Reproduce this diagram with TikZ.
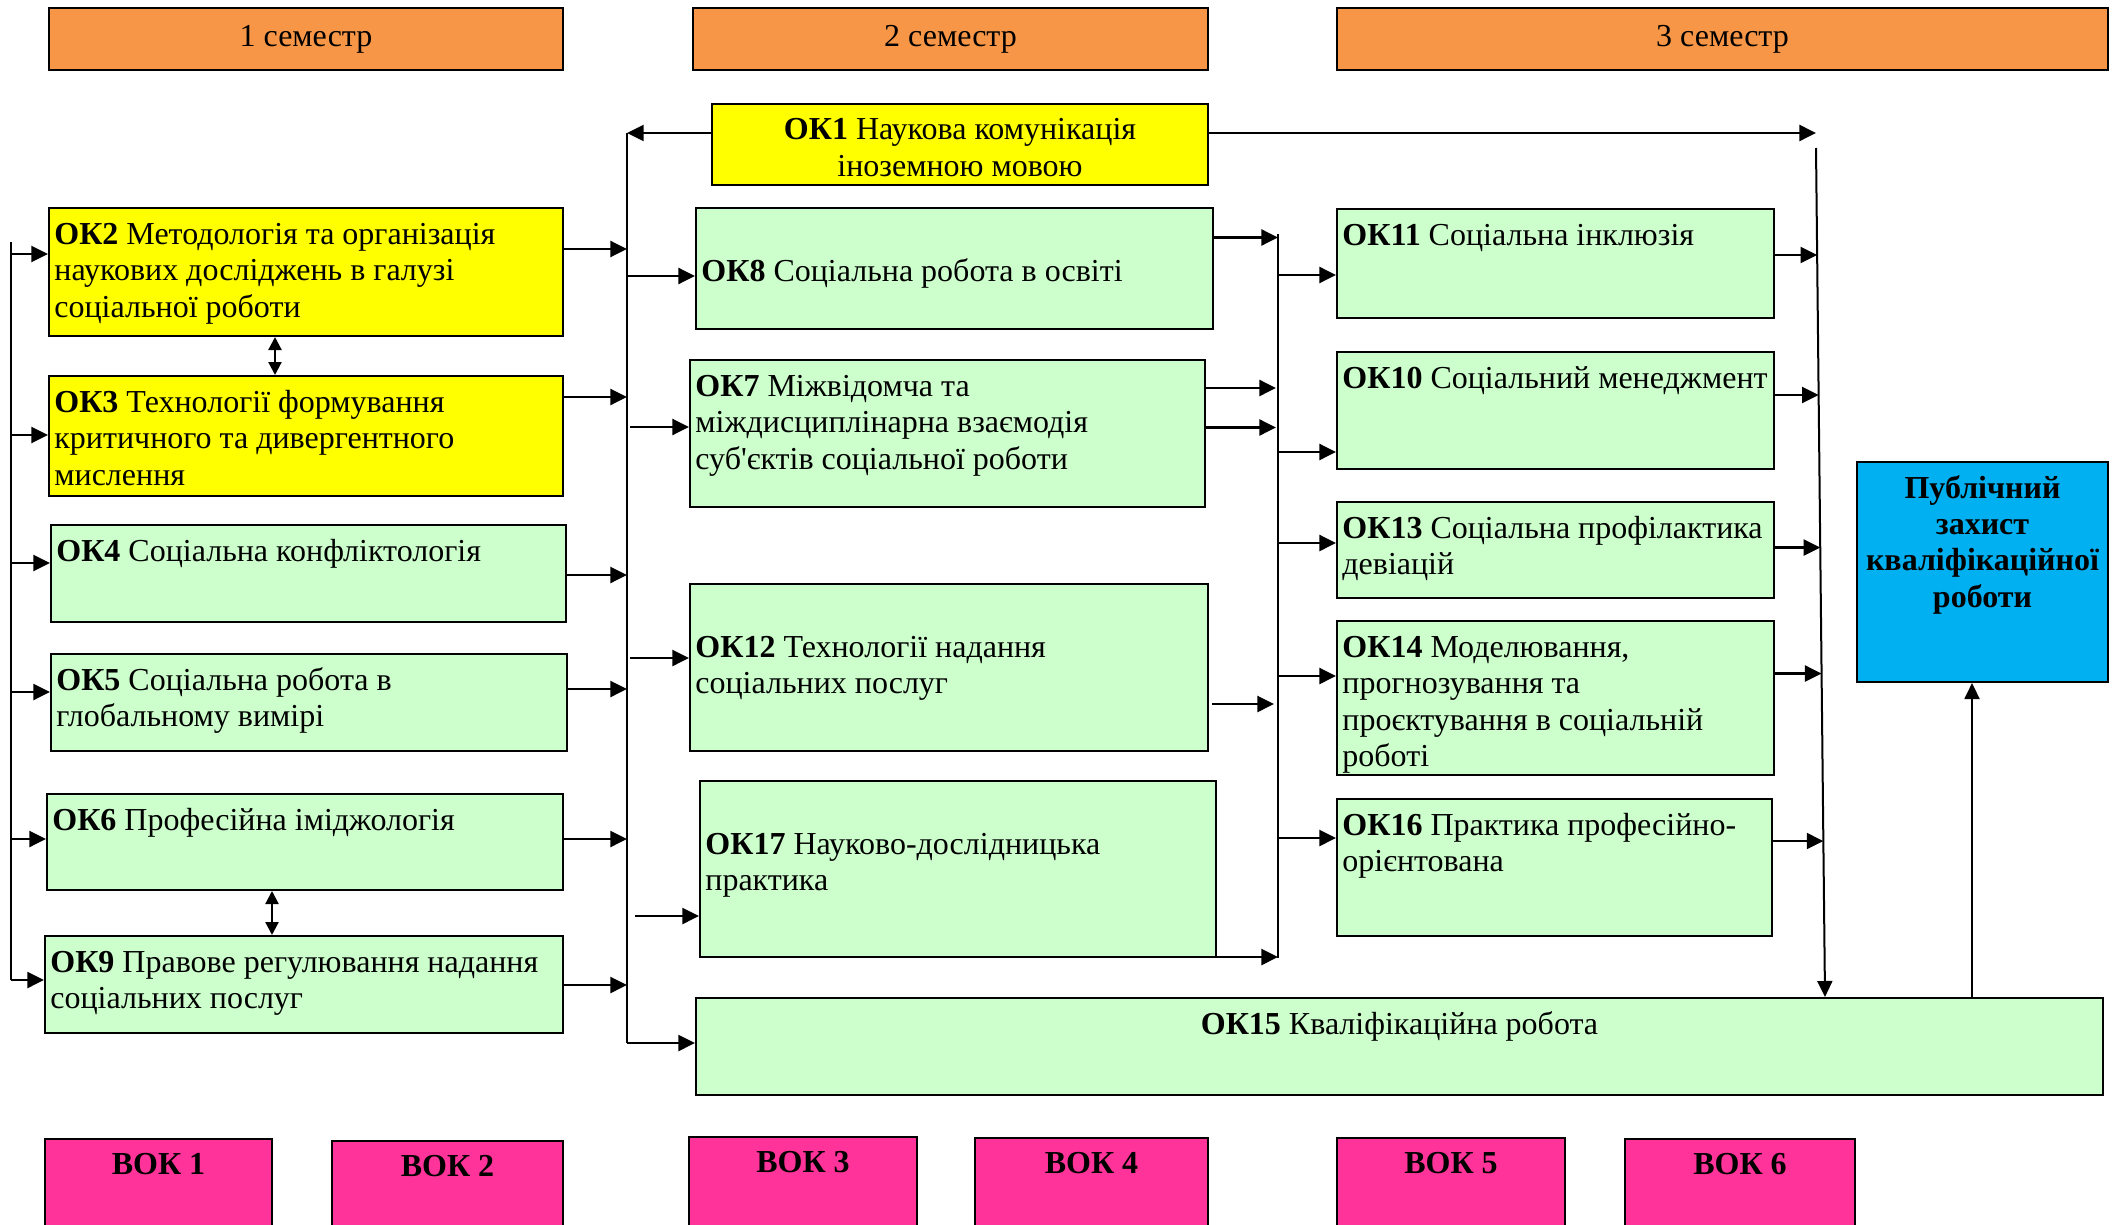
\documentclass[tikz,border=0pt]{standalone}
\usepackage{fontspec}
\setmainfont{Liberation Serif}
\newfontfamily\apf{Liberation Serif}
\usetikzlibrary{arrows.meta,fit,calc}
\newcommand{\tlft}[1]{\begin{tabular}[t]{@{}l@{}}#1\end{tabular}}
\newcommand{\tctr}[1]{\begin{tabular}[t]{@{}c@{}}#1\end{tabular}}
\definecolor{hdr}{HTML}{F79646}
\definecolor{yel}{HTML}{FFFF00}
\definecolor{grn}{HTML}{CCFFCC}
\definecolor{blu}{HTML}{00B0F0}
\definecolor{mag}{HTML}{FF3399}
\begin{document}
\begin{tikzpicture}[x=0.5pt,y=-0.5pt,
  every node/.style={font=\fontsize{16pt}{18.2pt}\selectfont},
  box/.style={draw=black, line width=1pt, inner sep=0pt},
  txt/.style={anchor=base west, inner sep=0pt},
  ctxt/.style={anchor=base, inner sep=0pt},
  arr/.style={line width=1.1pt, -{Triangle[length=8.3pt,width=8pt]}},
  darr/.style={line width=1.1pt, {Triangle[length=6.5pt,width=6.5pt]}-{Triangle[length=6.5pt,width=6.5pt]}},
  bus/.style={line width=0.6pt},
  tbus/.style={line width=1pt},
]
\useasboundingbox (0,0) rectangle (2114,1225);
\clip (0,0) rectangle (2114,1225);
\fill[white] (0,0) rectangle (2114,1225);

% semester headers
\node[box, fill=hdr, fit={(49,8) (563,70)}] (s1) {};
\node[box, fill=hdr, fit={(693,8) (1208,70)}] (s2) {};
\node[box, fill=hdr, fit={(1337,8) (2108,70)}] (s3) {};
\node[ctxt] at ([shift={(0,40)}]s1.north) {1 семестр};
\node[ctxt] at ([shift={(0,40)}]s2.north) {2 семестр};
\node[ctxt] at ([shift={(0,40)}]s3.north) {3 семестр};

% left column
\node[box, fill=yel, fit={(49,208) (563,336)}] (ok2) {};
\node[box, fill=yel, fit={(49,376) (563,496)}] (ok3) {};
\node[box, fill=grn, fit={(51,525) (566,622)}] (ok4) {};
\node[box, fill=grn, fit={(51,654) (567,751)}] (ok5) {};
\node[box, fill=grn, fit={(47,794) (563,890)}] (ok6) {};
\node[box, fill=grn, fit={(45,936) (563,1033)}] (ok9) {};
\node[txt] at ([shift={(6,37.5)}]ok2.north west) {\tlft{\textbf{ОК2} Методологія та організація\\наукових досліджень в галузі\\соціальної роботи}};
\node[txt] at ([shift={(6,37.5)}]ok3.north west) {\tlft{\textbf{ОК3} Технології формування\\критичного та дивергентного\\мислення}};
\node[txt] at ([shift={(6,37.5)}]ok4.north west) {\tlft{\textbf{ОК4} Соціальна конфліктологія}};
\node[txt] at ([shift={(6,37.5)}]ok5.north west) {\tlft{\textbf{ОК5} Соціальна робота в\\глобальному вимірі}};
\node[txt] at ([shift={(6,37.5)}]ok6.north west) {\tlft{\textbf{ОК6} Професійна іміджологія}};
\node[txt] at ([shift={(6,37.5)}]ok9.north west) {\tlft{\textbf{ОК9} Правове регулювання надання\\соціальних послуг}};

% middle column
\node[box, fill=yel, fit={(712,104) (1208,185)}] (ok1) {};
\node[box, fill=grn, fit={(696,208) (1213,329)}] (ok8) {};
\node[box, fill=grn, fit={(690,360) (1205,507)}] (ok7) {};
\node[box, fill=grn, fit={(690,584) (1208,751)}] (ok12) {};
\node[box, fill=grn, fit={(700,781) (1216,957)}] (ok17) {};
\node[box, fill=grn, fit={(696,998) (2103,1095)}] (ok15) {};
\node[ctxt] at ([shift={(0,37)}]ok1.north) {\tctr{\textbf{ОК1} Наукова комунікація\\іноземною мовою}};
\node[txt] at ([shift={(6,74)}]ok8.north west) {\tlft{\textbf{ОК8} Соціальна робота в освіті}};
\node[txt] at ([shift={(6,37.5)}]ok7.north west) {\tlft{\textbf{ОК7} Міжвідомча та\\міждисциплінарна взаємодія\\суб{\apf '}єктів соціальної роботи}};
\node[txt] at ([shift={(6,74)}]ok12.north west) {\tlft{\textbf{ОК12} Технології надання\\соціальних послуг}};
\node[txt] at ([shift={(6,74)}]ok17.north west) {\tlft{\textbf{ОК17} Науково-дослідницька\\практика}};
\node[ctxt] at ([shift={(0,37.5)}]ok15.north) {\textbf{ОК15} Кваліфікаційна робота};

% right column
\node[box, fill=grn, fit={(1337,209) (1774,318)}] (ok11) {};
\node[box, fill=grn, fit={(1337,352) (1774,469)}] (ok10) {};
\node[box, fill=grn, fit={(1337,502) (1774,598)}] (ok13) {};
\node[box, fill=grn, fit={(1337,621) (1774,775)}] (ok14) {};
\node[box, fill=grn, fit={(1337,799) (1772,936)}] (ok16) {};
\node[box, fill=blu, fit={(1857,462) (2108,682)}] (pub) {};
\node[txt] at ([shift={(6,37.5)}]ok11.north west) {\tlft{\textbf{ОК11} Соціальна інклюзія}};
\node[txt] at ([shift={(6,37.5)}]ok10.north west) {\tlft{\textbf{ОК10} Соціальний менеджмент}};
\node[txt] at ([shift={(6,37.5)}]ok13.north west) {\tlft{\textbf{ОК13} Соціальна профілактика\\девіацій}};
\node[txt] at ([shift={(6,37.5)}]ok14.north west) {\tlft{\textbf{ОК14} Моделювання,\\прогнозування та\\проєктування в соціальній\\роботі}};
\node[txt] at ([shift={(6,37.5)}]ok16.north west) {\tlft{\textbf{ОК16} Практика професійно-\\орієнтована}};
\node[ctxt] at ([shift={(0,37)}]pub.north) {\bfseries\tctr{Публічний\\захист\\кваліфікаційної\\роботи}};

% VOK boxes
\node[box, line width=0.8pt, fill=mag, fit={(45,1139) (272,1240)}] (vok1) {};
\node[box, line width=0.8pt, fill=mag, fit={(332,1141) (563,1240)}] (vok2) {};
\node[box, line width=0.8pt, fill=mag, fit={(689,1137) (917,1240)}] (vok3) {};
\node[box, line width=0.8pt, fill=mag, fit={(975,1138) (1208,1240)}] (vok4) {};
\node[box, line width=0.8pt, fill=mag, fit={(1337,1138) (1565,1240)}] (vok5) {};
\node[box, line width=0.8pt, fill=mag, fit={(1625,1139) (1855,1240)}] (vok6) {};
\foreach \v/\t in {vok1/ВОК 1, vok2/ВОК 2, vok3/ВОК 3, vok4/ВОК 4, vok5/ВОК 5, vok6/ВОК 6}
  \node[ctxt] at ([shift={(0,36.5)}]\v.north) {\textbf{\t}};

% left bus
\coordinate (lbT) at (11,242);
\coordinate (lbB) at (11,980);
\draw[bus] (lbT) -- (lbB);
\foreach \n/\yy in {ok2/254, ok3/435, ok4/563, ok5/692, ok6/839, ok9/980}
  \draw[arr] (lbT |- 0,\yy) -- (\n.west |- 0,\yy);

% double arrows
\draw[darr] (ok2.south -| 275,0) -- (ok3.north -| 275,0);
\draw[darr] (ok6.south -| 272,0) -- (ok9.north -| 272,0);

% bus A
\coordinate (aT) at (627,133);
\coordinate (aB) at (627,1043);
\draw[bus] (aT) -- (aB);
\draw[arr] (ok1.west |- aT) -- (aT);
\foreach \n/\yy in {ok2/249, ok3/397, ok4/575, ok5/689, ok6/839, ok9/985}
  \draw[arr] (\n.east |- 0,\yy) -- (aT |- 0,\yy);
\foreach \n/\yy/\xs in {ok8/276/0, ok7/427/3, ok12/658/3, ok17/916/8, ok15/1043/0}
  \draw[arr] ($(aT |- 0,\yy)+(\xs,0)$) -- (\n.west |- 0,\yy);

% bus C (to qualification work)
\coordinate (cT) at (1816,148);
\coordinate (cB) at (1825,997);
\draw[arr] (ok1.east |- aT) -- (cT |- aT);
\draw[tbus, -{Triangle[length=8pt,width=7.5pt]}] (cT) -- (cB);
\foreach \n/\f in {ok11/0.1260, ok10/0.2909, ok13/0.4706, ok14/0.6190, ok16/0.8163}{
  \path ($(cT)!\f!(cB)$) coordinate (tmp);
  \draw[arr] (\n.east |- tmp) -- (tmp);
}

% bus B
\coordinate (bT) at (1278,234);
\coordinate (bB) at (1278,958);
\draw[bus] (bT) -- (bB);
\draw[arr] (ok8.east |- 0,237.5) -- (bT |- 0,237.5);
\draw[arr] (ok7.east |- 0,388) -- ($(bT |- 0,388)+(-2,0)$);
\draw[arr] (ok7.east |- 0,427.5) -- ($(bT |- 0,427.5)+(-2,0)$);
\draw[arr] ($(ok12.east |- 0,704)+(3,0)$) -- ($(bT |- 0,704)+(-4,0)$);
\draw[arr] (ok17.east |- 0,957) -- (bT |- 0,957);
\foreach \n/\yy in {ok11/275, ok10/452, ok13/543, ok14/676, ok16/838}
  \draw[arr] (bT |- 0,\yy) -- (\n.west |- 0,\yy);

% to public defence
\draw[tbus, -{Triangle[length=8pt,width=7.5pt]}] (ok15.north -| 1972,0) -- (pub.south -| 1972,0);
\end{tikzpicture}
\end{document}
